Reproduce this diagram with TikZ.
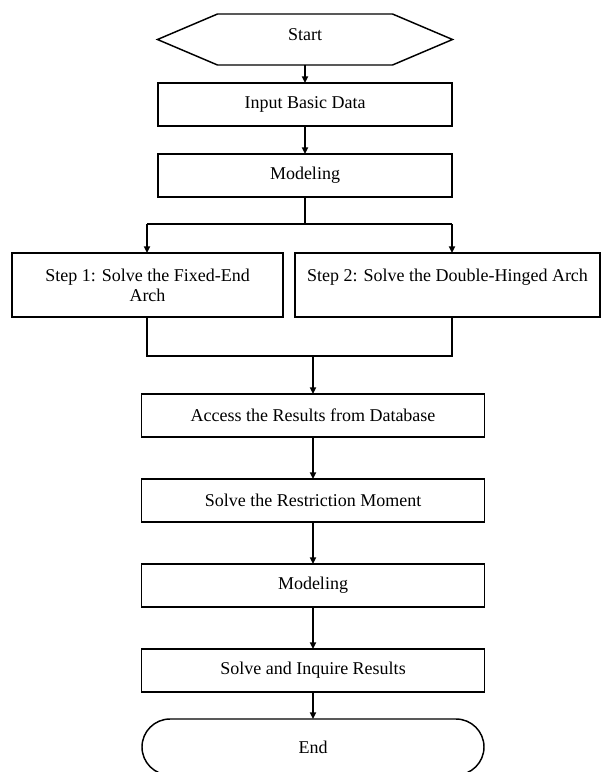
\documentclass[tikz,border=0pt]{standalone}
\usepackage{fontspec}
\setmainfont{Liberation Serif}
\usetikzlibrary{arrows.meta}
\newcommand{\boxfont}{\fontsize{13.5}{15}\selectfont}

\begin{document}
\begin{tikzpicture}[x=0.75pt,y=-0.75pt,line width=1.1pt,
                >={Triangle[length=5pt,width=4.5pt]},
                box/.style={rectangle,draw=black,outer sep=0pt,align=center,font=\boxfont},
                link/.style={->,line width=1.4pt}]
            \useasboundingbox (0,0) rectangle (601,772);

            \node[rectangle, outer sep=0pt, font=\boxfont, text depth=7.5pt, minimum width=221.25pt, minimum height=38.25pt] (start) at (305,39.5) {Start};
            \draw (start.west) -- ([xshift=45pt]start.north west) -- ([xshift=-45pt]start.north east)
                -- (start.east) -- ([xshift=-45pt]start.south east) -- ([xshift=45pt]start.south west) -- cycle;

            \node[box, minimum width=220.5pt, minimum height=32.25pt] (input) at (305,104.5) {Input Basic Data};
            \node[box, minimum width=220.5pt, minimum height=32.25pt] (model1) at (305,175.5) {Modeling};
            \node[box, minimum width=203.25pt, minimum height=48pt] (step1) at (147.5,285) {Step 1: Solve the Fixed-End\\Arch};
            \node[box, minimum width=228.75pt, minimum height=48pt] (step2) at (447.5,285) {Step 2: Solve the Double-Hinged Arch\\\vphantom{Arch}};
            \node[box, minimum width=257.25pt, minimum height=32.25pt] (access) at (313,415.5) {Access the Results from Database};
            \node[box, minimum width=257.25pt, minimum height=32.25pt] (restrict) at (313,500.5) {Solve the Restriction Moment};
            \node[box, minimum width=257.25pt, minimum height=32.25pt] (model2) at (313,585.5) {Modeling};
            \node[box, minimum width=257.25pt, minimum height=32.25pt] (solve) at (313,670.5) {Solve and Inquire Results};
            \node[box, minimum width=256.5pt, minimum height=42pt, rounded corners=21pt] (finish) at (313,747) {End};

            % fork and join points
            \coordinate (fork) at (305,224);
            \coordinate (forkL) at (147,224);
            \coordinate (forkR) at (452,224);
            \coordinate (join) at (313,356);
            \coordinate (joinL) at (147,356);
            \coordinate (joinR) at (452,356);

            \draw[link] (start) -- (input);
            \draw[link] (input) -- (model1);
            \draw[link] (access) -- (restrict);
            \draw[link] (restrict) -- (model2);
            \draw[link] (model2) -- (solve);
            \draw[link] (solve) -- (finish);

            \draw[line width=1.4pt] (model1) -- (fork);
            \draw[line width=1.4pt] (forkL) -- (forkR);
            \draw[link] (forkL) -- (forkL |- step1.north);
            \draw[link] (forkR) -- (forkR |- step2.north);
            \draw[line width=1.4pt] (step1.south -| joinL) -- (joinL) -- (joinR) -- (step2.south -| joinR);
            \draw[link] (join) -- (access);

        \end{tikzpicture}
\end{document}
